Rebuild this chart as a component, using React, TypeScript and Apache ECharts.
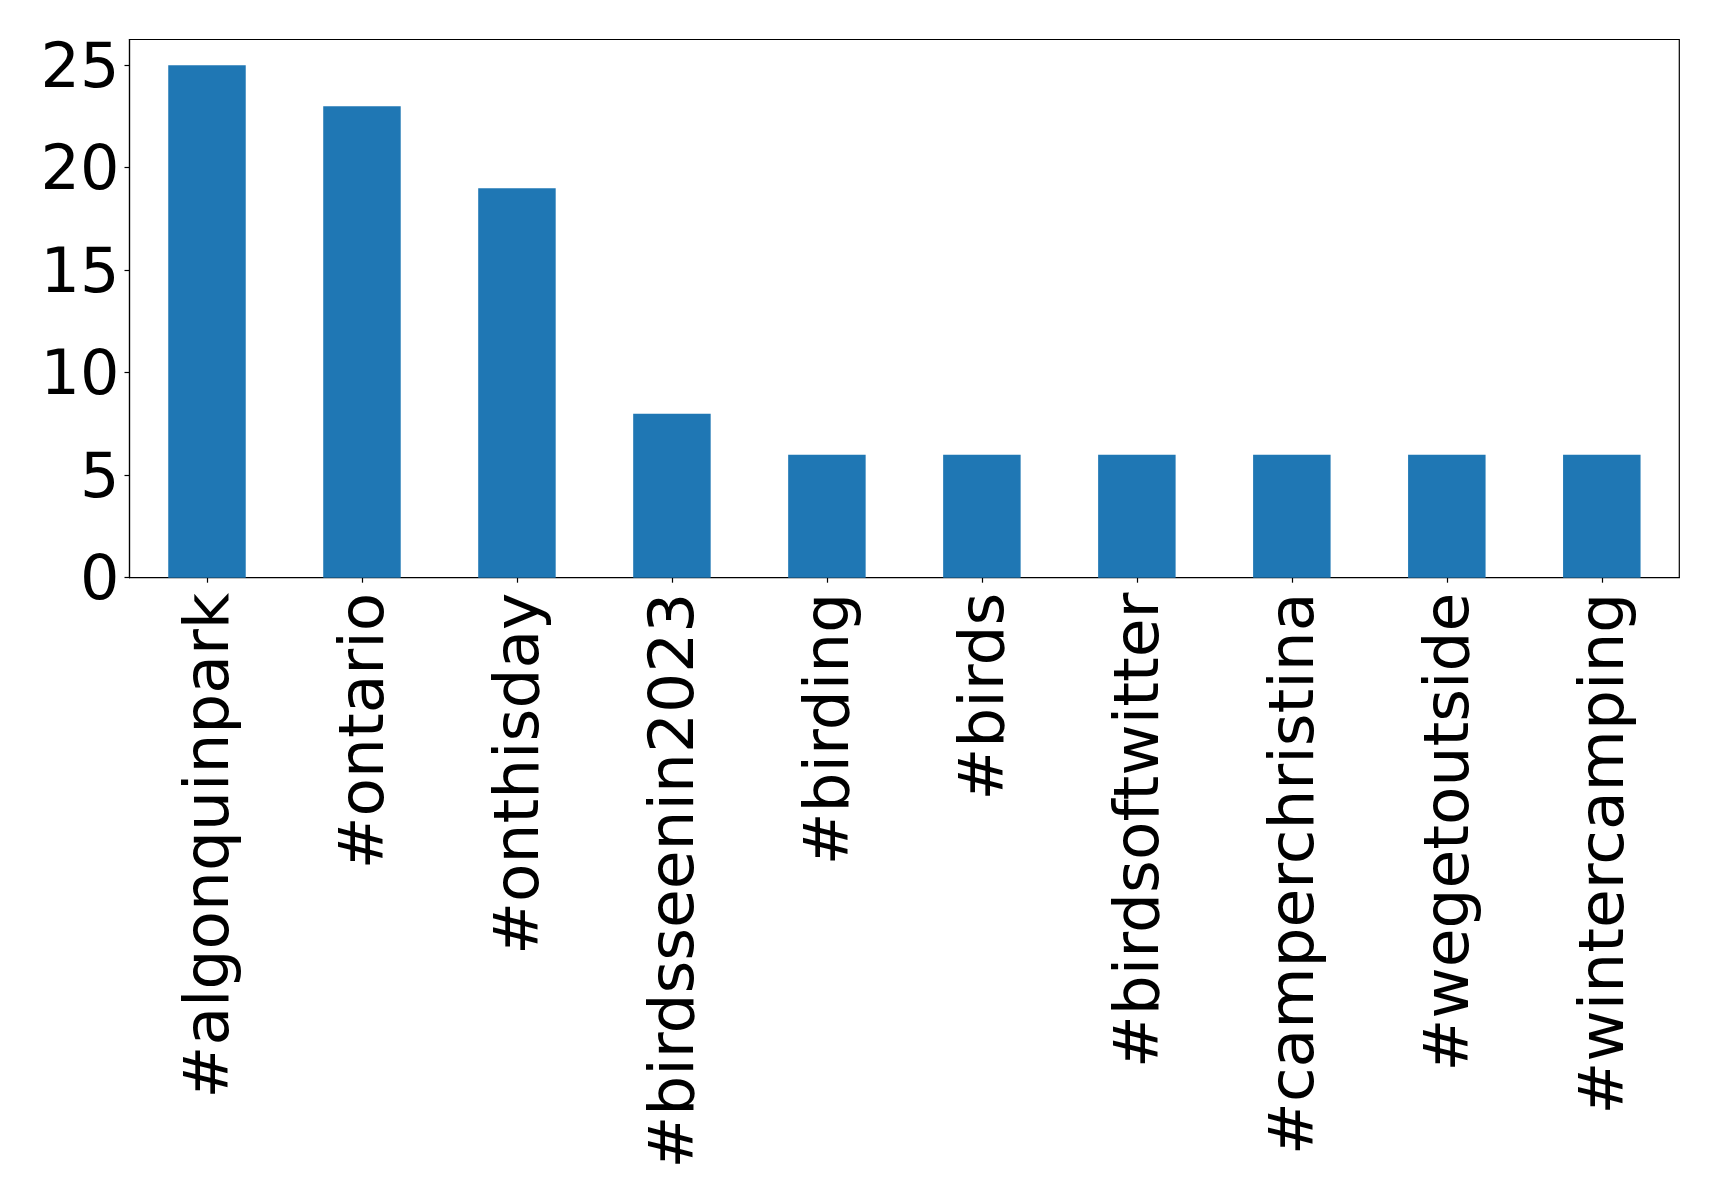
import React, { useEffect, useRef } from "react";
import * as echarts from "echarts";

const categories = [
  "#algonquinpark",
  "#ontario",
  "#onthisday",
  "#birdsseenin2023",
  "#birding",
  "#birds",
  "#birdsoftwitter",
  "#camperchristina",
  "#wegetoutside",
  "#wintercamping",
];
const counts = [25, 23, 19, 8, 6, 6, 6, 6, 6, 6];
const yTicks = [0, 5, 10, 15, 20, 25];

export default function App() {
  const ref = useRef<HTMLDivElement>(null);
  useEffect(() => {
    document.body.style.margin = "0";
    const chart = echarts.init(ref.current!, null, { renderer: "svg" });
    const font = "DejaVu Sans";
    chart.setOption({
      animation: false,
      backgroundColor: "#ffffff",
      grid: {
        left: 129.5,
        top: 39.5,
        right: 39.7,
        bottom: 621.3,
        containLabel: false,
        show: true,
        borderColor: "#000000",
        borderWidth: 1.2,
        backgroundColor: "transparent",
      },
      xAxis: {
        type: "category",
        data: categories,
        boundaryGap: true,
        axisLine: { show: true, lineStyle: { color: "#000", width: 1.2 } },
        axisTick: { show: true, alignWithLabel: true, length: 5, lineStyle: { color: "#000", width: 1.2 } },
        axisLabel: {
          rotate: 90,
          interval: 0,
          margin: 15,
          fontFamily: font,
          fontSize: 63,
          color: "#000",
        },
        splitLine: { show: false },
      },
      yAxis: {
        type: "value",
        min: 0,
        max: 26.25,
        interval: 5,
        axisLine: { show: true, lineStyle: { color: "#000", width: 1.2 } },
        axisTick: { show: true, length: 5, lineStyle: { color: "#000", width: 1.2 } },
        axisLabel: {
          margin: 10,
          fontFamily: font,
          fontSize: 62,
          color: "#000",
          showMaxLabel: false,
          formatter: (v: number) => (yTicks.includes(v) ? String(v) : ""),
        },
        splitLine: { show: false },
      },
      series: [
        {
          type: "bar",
          data: counts,
          barWidth: "50%",
          itemStyle: { color: "#1f77b4" },
        },
      ],
    });
    return () => chart.dispose();
  }, []);
  return <div ref={ref} style={{ width: 1719, height: 1199 }} />;
}
